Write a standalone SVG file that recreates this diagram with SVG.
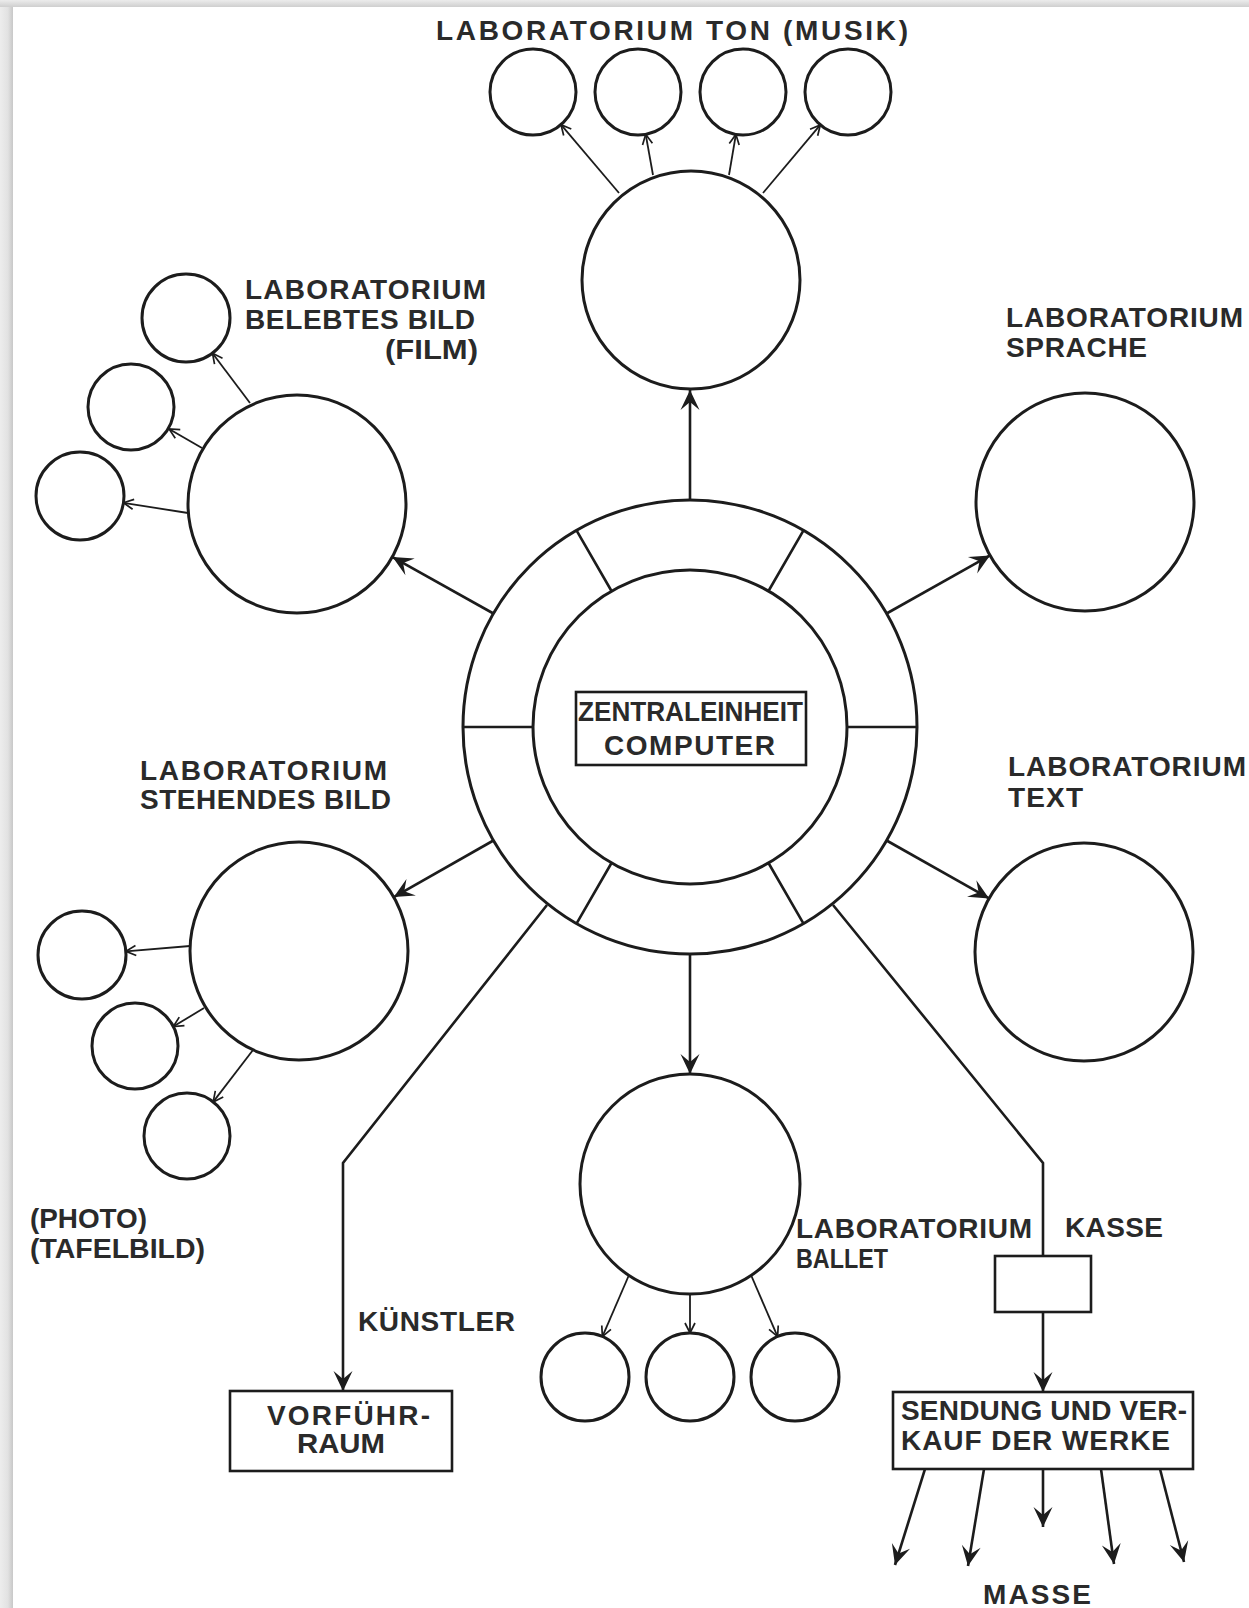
<svg xmlns="http://www.w3.org/2000/svg" width="1249" height="1608" viewBox="0 0 1249 1608">
<style>
.n{fill:none;stroke:#1c1c1c;stroke-width:3}
.b{fill:none;stroke:#1c1c1c;stroke-width:2.6}
.c{fill:none;stroke:#1c1c1c;stroke-width:2.6}
.s{fill:none;stroke:#1c1c1c;stroke-width:1.8}
.t{font-family:"Liberation Sans",Arial,sans-serif;font-weight:bold;font-size:28px;fill:#2a2a2a}
</style>
<defs>
<linearGradient id="gl" x1="0" y1="0" x2="1" y2="0"><stop offset="0" stop-color="#ededed"/><stop offset="0.6" stop-color="#e2e2e2"/><stop offset="1" stop-color="#c8c8c8"/></linearGradient>
<linearGradient id="gt" x1="0" y1="0" x2="0" y2="1"><stop offset="0" stop-color="#ececec"/><stop offset="1" stop-color="#cfcfcf"/></linearGradient>
<marker id="big" viewBox="-21 -11 22 22" refX="0" refY="0" markerWidth="22" markerHeight="22" markerUnits="userSpaceOnUse" orient="auto"><path d="M0,0 L-20,-9.5 L-12,0 L-20,9.5 Z" fill="#1c1c1c"/></marker>
<marker id="sm" viewBox="-12 -7 13 14" refX="0" refY="0" markerWidth="13" markerHeight="14" markerUnits="userSpaceOnUse" orient="auto"><path d="M-10,-5 L0,0 L-10,5" fill="none" stroke="#1c1c1c" stroke-width="1.7"/></marker>
</defs>
<rect x="0" y="0" width="1249" height="1608" fill="#e4e4e4"/>
<rect x="0" y="0" width="13" height="1608" fill="url(#gl)"/>
<rect x="0" y="0" width="1249" height="7" fill="url(#gt)"/>
<rect x="13" y="7" width="1236" height="1601" fill="#ffffff"/>

<g id="connectors">
<line class="b" x1="690" y1="500" x2="690" y2="390" marker-end="url(#big)"/>
<line class="b" x1="493.4" y1="613.5" x2="392.6" y2="557.1" marker-end="url(#big)"/>
<line class="b" x1="886.6" y1="613.5" x2="990" y2="555.4" marker-end="url(#big)"/>
<line class="b" x1="493.4" y1="840.5" x2="393.8" y2="897.1" marker-end="url(#big)"/>
<line class="b" x1="886.6" y1="840.5" x2="989.1" y2="898.4" marker-end="url(#big)"/>
<line class="b" x1="690" y1="954" x2="690" y2="1074" marker-end="url(#big)"/>
<polyline class="b" points="547,905 343,1163 343,1391" marker-end="url(#big)"/>
<polyline class="b" points="833,905 1043,1163 1043,1256"/>
<line class="b" x1="1043" y1="1312" x2="1043" y2="1392" marker-end="url(#big)"/>
<line class="b" x1="925" y1="1469" x2="895" y2="1565" marker-end="url(#big)"/>
<line class="b" x1="984" y1="1469" x2="968" y2="1566" marker-end="url(#big)"/>
<line class="b" x1="1043" y1="1469" x2="1043" y2="1527" marker-end="url(#big)"/>
<line class="b" x1="1101" y1="1469" x2="1114" y2="1564" marker-end="url(#big)"/>
<line class="b" x1="1160" y1="1469" x2="1184" y2="1562" marker-end="url(#big)"/>
<line class="s" x1="619" y1="193" x2="561" y2="124.7" marker-end="url(#sm)"/>
<line class="s" x1="653" y1="175" x2="645.7" y2="134.3" marker-end="url(#sm)"/>
<line class="s" x1="729" y1="175" x2="735.9" y2="134.4" marker-end="url(#sm)"/>
<line class="s" x1="763" y1="193" x2="820.3" y2="124.9" marker-end="url(#sm)"/>
<line class="s" x1="250" y1="403" x2="212.5" y2="353.2" marker-end="url(#sm)"/>
<line class="s" x1="202" y1="448" x2="169.1" y2="429" marker-end="url(#sm)"/>
<line class="s" x1="188" y1="513" x2="123.5" y2="502.8" marker-end="url(#sm)"/>
<line class="s" x1="190" y1="946" x2="125.9" y2="951.3" marker-end="url(#sm)"/>
<line class="s" x1="204" y1="1008" x2="173.3" y2="1026.6" marker-end="url(#sm)"/>
<line class="s" x1="253" y1="1050" x2="213.2" y2="1101.9" marker-end="url(#sm)"/>
<line class="s" x1="629" y1="1275" x2="602.4" y2="1336.6" marker-end="url(#sm)"/>
<line class="s" x1="690" y1="1294" x2="690" y2="1333" marker-end="url(#sm)"/>
<line class="s" x1="751" y1="1275" x2="777.6" y2="1336.6" marker-end="url(#sm)"/>
</g>

<g id="zentrale">
<circle class="n" cx="690" cy="727" r="227"/>
<circle class="n" cx="690" cy="727" r="157"/>
<path class="c" d="M847,727 L917,727 M533,727 L463,727 M768.5,591 L803.5,530.4 M611.5,591 L576.5,530.4 M611.5,863 L576.5,923.6 M768.5,863 L803.5,923.6"/>
<rect class="c" x="576" y="692" width="230" height="73"/>
<text class="t" x="578" y="721" textLength="225" lengthAdjust="spacingAndGlyphs">ZENTRALEINHEIT</text>
<text class="t" x="604" y="755" textLength="171" lengthAdjust="spacing">COMPUTER</text>
</g>

<g id="lab-ton">
<circle class="n" cx="691" cy="280" r="109"/>
<circle class="n" cx="533" cy="92" r="43"/>
<circle class="n" cx="638" cy="92" r="43"/>
<circle class="n" cx="743" cy="92" r="43"/>
<circle class="n" cx="848" cy="92" r="43"/>
<text class="t" x="436" y="40" textLength="472" lengthAdjust="spacing">LABORATORIUM TON  (MUSIK)</text>
</g>

<g id="lab-film">
<circle class="n" cx="297" cy="504" r="109"/>
<circle class="n" cx="186" cy="318" r="44"/>
<circle class="n" cx="131" cy="407" r="43"/>
<circle class="n" cx="80" cy="496" r="44"/>
<text class="t" x="245" y="299" textLength="241" lengthAdjust="spacing">LABORATORIUM</text>
<text class="t" x="245" y="329" textLength="230" lengthAdjust="spacing">BELEBTES BILD</text>
<text class="t" x="385" y="359" textLength="93" lengthAdjust="spacingAndGlyphs">(FILM)</text>
</g>

<g id="lab-sprache">
<circle class="n" cx="1085" cy="502" r="109"/>
<text class="t" x="1006" y="327" textLength="237" lengthAdjust="spacing">LABORATORIUM</text>
<text class="t" x="1006" y="357" textLength="141" lengthAdjust="spacing">SPRACHE</text>
</g>

<g id="lab-stehend">
<circle class="n" cx="299" cy="951" r="109"/>
<circle class="n" cx="82" cy="955" r="44"/>
<circle class="n" cx="135" cy="1046" r="43"/>
<circle class="n" cx="187" cy="1136" r="43"/>
<text class="t" x="140" y="780" textLength="247" lengthAdjust="spacing">LABORATORIUM</text>
<text class="t" x="140" y="809" textLength="251" lengthAdjust="spacing">STEHENDES BILD</text>
<text class="t" x="30" y="1228" textLength="117" lengthAdjust="spacingAndGlyphs">(PHOTO)</text>
<text class="t" x="30" y="1258" textLength="175" lengthAdjust="spacingAndGlyphs">(TAFELBILD)</text>
</g>

<g id="lab-text">
<circle class="n" cx="1084" cy="952" r="109"/>
<text class="t" x="1008" y="776" textLength="238" lengthAdjust="spacing">LABORATORIUM</text>
<text class="t" x="1008" y="807" textLength="75" lengthAdjust="spacing">TEXT</text>
</g>

<g id="lab-ballet">
<circle class="n" cx="690" cy="1184" r="110"/>
<circle class="n" cx="585" cy="1377" r="44"/>
<circle class="n" cx="690" cy="1377" r="44"/>
<circle class="n" cx="795" cy="1377" r="44"/>
<text class="t" x="796" y="1238" textLength="236" lengthAdjust="spacing">LABORATORIUM</text>
<text class="t" x="796" y="1268" textLength="92" lengthAdjust="spacingAndGlyphs">BALLET</text>
</g>

<g id="kasse">
<rect class="c" x="995" y="1256" width="96" height="56"/>
<text class="t" x="1065" y="1237" textLength="98" lengthAdjust="spacing">KASSE</text>
</g>

<g id="kuenstler">
<text class="t" x="358" y="1331" textLength="157" lengthAdjust="spacing">KÜNSTLER</text>
</g>

<g id="vorfuehrraum">
<rect class="c" x="230" y="1391" width="222" height="80"/>
<text class="t" x="267" y="1425" textLength="163" lengthAdjust="spacing">VORFÜHR-</text>
<text class="t" x="297" y="1453" textLength="88" lengthAdjust="spacingAndGlyphs">RAUM</text>
</g>

<g id="sendung">
<rect class="c" x="893" y="1392" width="300" height="77"/>
<text class="t" x="901" y="1420" textLength="286" lengthAdjust="spacing">SENDUNG UND VER-</text>
<text class="t" x="901" y="1450" textLength="269" lengthAdjust="spacing">KAUF  DER WERKE</text>
</g>

<g id="masse">
<text class="t" x="983" y="1604" textLength="108" lengthAdjust="spacing">MASSE</text>
</g>
</svg>
